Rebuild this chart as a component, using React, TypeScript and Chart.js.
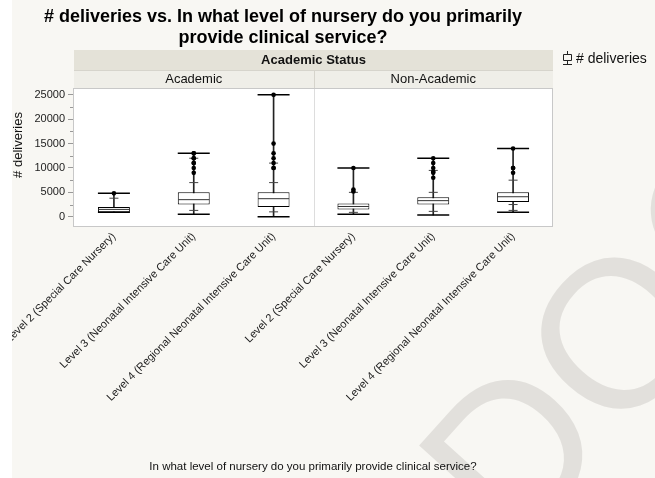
import React, { useEffect, useRef } from 'react';
import { Chart, registerables } from 'chart.js';

Chart.register(...registerables);

const FONT = '"Liberation Sans", Arial, Helvetica, sans-serif';

const titleLines = ['# deliveries vs. In what level of nursery do you primarily', 'provide clinical service?'];
const groupTitle = 'Academic Status';
const panels = ['Academic', 'Non-Academic'];
const categories = [
  'Level 2 (Special Care Nursery)',
  'Level 3 (Neonatal Intensive Care Unit)',
  'Level 4 (Regional Neonatal Intensive Care Unit)',
  'Level 2 (Special Care Nursery)',
  'Level 3 (Neonatal Intensive Care Unit)',
  'Level 4 (Regional Neonatal Intensive Care Unit)',
];
const yTitle = '# deliveries';
const xTitle = 'In what level of nursery do you primarily provide clinical service?';
const legendLabel = '# deliveries';
const watermark = 'DOC';

const boxMin = [900, 500, 0, 500, 350, 900];
const boxQ1 = [900, 2500, 2000, 1500, 2500, 3000];
const boxMedian = [1500, 3500, 3700, 2100, 3300, 4100];
const boxQ3 = [2000, 5000, 5000, 2700, 4000, 5000];
const boxMax = [4800, 13000, 25000, 10000, 12000, 14000];
const quantileTicks = [
  [3800],
  [1300, 7000, 12000],
  [1000, 7000, 11000],
  [900, 5000],
  [1100, 5000, 9500],
  [1300, 2500, 7500],
];
const outliers = [
  [4800],
  [13000, 13000, 12000, 12000, 11000, 11000, 10000, 9000],
  [25000, 15000, 13000, 12000, 11000, 10000, 10000],
  [10000, 5600, 5200],
  [12000, 11000, 10000, 9200, 9000, 8000],
  [14000, 10000, 10000, 9000],
];
const yTicks = [0, 5000, 10000, 15000, 20000, 25000];
const yMinorTicks = [2500, 7500, 12500, 17500, 22500];

export default function App() {
  const ref = useRef<HTMLCanvasElement>(null);

  useEffect(() => {
    document.body.style.margin = '0';
    const canvas = ref.current;
    if (!canvas) return;
    const idx = categories.map((_, i) => i);

    const decor = {
      id: 'decor',
      beforeDraw(chart: any) {
        const { ctx, chartArea, width, height } = chart;
        const xs = chart.scales.x;
        ctx.save();
        ctx.fillStyle = '#f8f7f3';
        ctx.fillRect(0, 0, width, height);

        // watermark
        ctx.save();
        ctx.translate(515, 555);
        ctx.rotate((-48 * Math.PI) / 180);
        ctx.font = `210px ${FONT}`;
        ctx.fillStyle = '#e2e0dc';
        ctx.textAlign = 'left';
        ctx.textBaseline = 'alphabetic';
        ctx.fillText(watermark, 0, 0);
        ctx.restore();

        // plot background
        ctx.fillStyle = '#ffffff';
        ctx.fillRect(chartArea.left, chartArea.top, chartArea.right - chartArea.left, chartArea.bottom - chartArea.top);

        // headers
        const L = chartArea.left;
        const R = chartArea.right;
        const mid = xs.getPixelForValue(2.5);
        ctx.fillStyle = '#e4e2d8';
        ctx.fillRect(L, 50, R - L, 20);
        ctx.fillStyle = '#efeee8';
        ctx.fillRect(L, 70, R - L, chartArea.top - 70);
        ctx.strokeStyle = '#d6d4cc';
        ctx.lineWidth = 1;
        ctx.beginPath();
        ctx.moveTo(Math.round(mid) + 0.5, 70);
        ctx.lineTo(Math.round(mid) + 0.5, chartArea.top);
        ctx.moveTo(L, 70.5);
        ctx.lineTo(R, 70.5);
        ctx.stroke();

        ctx.fillStyle = '#111';
        ctx.textAlign = 'center';
        ctx.textBaseline = 'middle';
        ctx.font = `bold 13px ${FONT}`;
        ctx.fillText(groupTitle, (L + R) / 2, 60.5);
        ctx.font = `13px ${FONT}`;
        ctx.fillText(panels[0], (L + mid) / 2, 79.5);
        ctx.fillText(panels[1], (mid + R) / 2, 79.5);

        // title
        ctx.font = `bold 18px ${FONT}`;
        ctx.fillStyle = '#000';
        ctx.fillText(titleLines[0], 283, 17);
        ctx.fillText(titleLines[1], 283, 38);

        // legend
        ctx.strokeStyle = '#222';
        ctx.lineWidth = 1;
        ctx.beginPath();
        ctx.rect(563.5, 54.5, 8, 6);
        ctx.moveTo(567.5, 60.5);
        ctx.lineTo(567.5, 65);
        ctx.moveTo(563, 64.5);
        ctx.lineTo(572, 64.5);
        ctx.moveTo(567.5, 51);
        ctx.lineTo(567.5, 54.5);
        ctx.stroke();
        ctx.fillStyle = '#111';
        ctx.textAlign = 'left';
        ctx.font = `14px ${FONT}`;
        ctx.fillText(legendLabel, 576, 59.5);

        // axis titles
        ctx.font = `11.5px ${FONT}`;
        ctx.textAlign = 'center';
        ctx.fillText(xTitle, 313, 467);
        ctx.save();
        ctx.translate(18, 145);
        ctx.rotate(-Math.PI / 2);
        ctx.font = `13px ${FONT}`;
        ctx.fillText(yTitle, 0, 0);
        ctx.restore();
        ctx.restore();
      },
      beforeDatasetsDraw(chart: any) {
        const { ctx, chartArea } = chart;
        const xs = chart.scales.x;
        const mid = Math.round(xs.getPixelForValue(2.5)) + 0.5;
        ctx.save();
        ctx.strokeStyle = '#dddddd';
        ctx.lineWidth = 1;
        ctx.beginPath();
        ctx.moveTo(mid, chartArea.top);
        ctx.lineTo(mid, chartArea.bottom);
        ctx.stroke();
        ctx.restore();
      },
      afterDraw(chart: any) {
        const { ctx, chartArea, height } = chart;
        const ys = chart.scales.y;
        ctx.save();
        ctx.strokeStyle = '#c8c8c8';
        ctx.lineWidth = 1;
        ctx.strokeRect(
          Math.round(chartArea.left) - 0.5,
          Math.round(chartArea.top) + 0.5,
          Math.round(chartArea.right - chartArea.left),
          Math.round(chartArea.bottom - chartArea.top)
        );
        ctx.strokeStyle = '#999';
        ctx.beginPath();
        yMinorTicks.forEach((v) => {
          const y = Math.round(ys.getPixelForValue(v)) + 0.5;
          ctx.moveTo(chartArea.left - 4, y);
          ctx.lineTo(chartArea.left - 1, y);
        });
        ctx.stroke();
        // white page margin strip at left
        ctx.fillStyle = '#ffffff';
        ctx.fillRect(0, 0, 12, height);
        ctx.restore();
      },
    };

    const chart = new Chart(canvas, {
      type: 'bar',
      data: {
        labels: categories,
        datasets: [
          {
            type: 'scatter',
            label: 'outliers',
            data: outliers.flatMap((arr, i) => arr.map((v) => ({ x: i, y: v }))),
            pointStyle: 'circle',
            pointRadius: 2.3,
            pointBackgroundColor: '#000',
            pointBorderColor: '#000',
            pointBorderWidth: 0,
            backgroundColor: '#000',
            borderColor: '#000',
            order: 0,
          } as any,
          {
            type: 'scatter',
            label: 'quantiles',
            data: quantileTicks.flatMap((arr, i) => arr.map((v) => ({ x: i, y: v }))),
            pointStyle: 'line',
            pointRadius: 4.5,
            pointBorderColor: '#444',
            pointBorderWidth: 1,
            borderColor: '#444',
            order: 1,
          } as any,
          {
            type: 'scatter',
            label: 'range',
            data: [
              ...boxMin.map((v, i) => ({ x: i, y: v })),
              ...boxMax.map((v, i) => ({ x: i, y: v })),
            ],
            pointStyle: 'line',
            pointRadius: 16,
            pointBorderColor: '#000',
            pointBorderWidth: 1.5,
            borderColor: '#000',
            order: 2,
          } as any,
          {
            type: 'scatter',
            label: 'median',
            data: boxMedian.map((v, i) => ({ x: i, y: v })),
            pointStyle: 'line',
            pointRadius: 15.5,
            pointBorderColor: '#333',
            pointBorderWidth: 1,
            borderColor: '#333',
            order: 3,
          } as any,
          {
            type: 'bar',
            label: 'box',
            data: idx.map((i) => ({ x: i, y: [boxQ1[i], boxQ3[i]] })),
            backgroundColor: '#ffffff',
            borderColor: '#000',
            borderWidth: 1,
            borderSkipped: false,
            barPercentage: 0.4,
            categoryPercentage: 1,
            grouped: false,
            order: 4,
          } as any,
          {
            type: 'bar',
            label: 'whisker',
            data: idx.map((i) => ({ x: i, y: [boxMin[i], boxMax[i]] })),
            backgroundColor: '#222',
            borderWidth: 0,
            barThickness: 1,
            grouped: false,
            order: 5,
          } as any,
        ],
      },
      options: {
        responsive: false,
        animation: false,
        devicePixelRatio: 1,
        layout: { padding: { left: 0, top: 88, right: 102, bottom: 0 } },
        plugins: {
          legend: { display: false },
          title: { display: false },
          tooltip: { enabled: false },
        },
        events: [],
        scales: {
          x: {
            type: 'linear',
            min: -0.5,
            max: 5.5,
            offset: false,
            grid: { display: false, drawTicks: false },
            border: { display: false },
            afterBuildTicks: (s: any) => {
              s.ticks = idx.map((i) => ({ value: i }));
            },
            afterFit: (s: any) => {
              s.height = 252;
              s.paddingLeft = 0;
              s.paddingRight = 0;
            },
            ticks: {
              autoSkip: false,
              minRotation: 45,
              maxRotation: 45,
              padding: 4,
              color: '#222',
              font: { family: FONT, size: 11 },
              callback: (v: any) => categories[Math.round(Number(v))] ?? '',
            },
          } as any,
          y: {
            type: 'linear',
            min: -1900,
            max: 26400,
            grid: { drawOnChartArea: false, drawTicks: true, tickLength: 6, color: '#999' },
            border: { display: false },
            afterBuildTicks: (s: any) => {
              s.ticks = yTicks.map((v) => ({ value: v }));
            },
            afterFit: (s: any) => {
              s.width = 74;
              s.paddingTop = 0;
              s.paddingBottom = 0;
            },
            ticks: {
              padding: 3,
              color: '#222',
              font: { family: FONT, size: 11 },
              callback: (v: any) => String(v),
            },
          } as any,
        },
      },
      plugins: [decor],
    });

    return () => chart.destroy();
  }, []);

  return (
    <div style={{ position: 'fixed', left: 0, top: 0, width: 655, height: 478 }}>
      <canvas ref={ref} width={655} height={478} style={{ width: 655, height: 478, display: 'block' }} />
    </div>
  );
}
